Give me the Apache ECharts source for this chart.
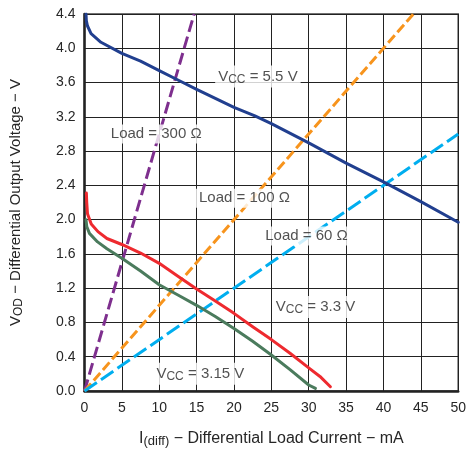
<!DOCTYPE html>
<html>
<head>
<meta charset="utf-8">
<script src="https://cdn.jsdelivr.net/npm/echarts@6/dist/echarts.min.js"></script>
<style>
html,body{margin:0;padding:0;background:#fff;}
#chart{width:469px;height:453px;}
</style>
</head>
<body>
<div id="chart"></div>
<script>
// Vcc = 5.5 V curve
const vcc55X = [0.2, 0.25, 0.4, 0.88, 2.2, 5, 7.5, 10, 12.5, 15, 20, 22.8, 25, 30, 35, 40, 45, 50];
const vcc55Y = [4.4, 4.32, 4.26, 4.17, 4.07, 3.94, 3.85, 3.74, 3.63, 3.52, 3.31, 3.21, 3.12, 2.895, 2.66, 2.44, 2.21, 1.97];
// Vcc = 3.3 V curve
const vcc33X = [0.25, 0.3, 0.4, 0.9, 1.8, 3, 5, 7.5, 10, 12.5, 15, 17.5, 20, 22.5, 25, 27.5, 30, 31.5, 32.9];
const vcc33Y = [2.31, 2.2, 2.07, 1.95, 1.86, 1.78, 1.71, 1.61, 1.49, 1.34, 1.19, 1.05, 0.906, 0.75, 0.60, 0.44, 0.27, 0.17, 0.05];
// Vcc = 3.15 V curve
const vcc315X = [0.2, 0.3, 0.66, 1.75, 3, 5, 7.5, 10, 12.5, 15, 17.5, 20, 22.5, 25, 27.5, 30, 30.9];
const vcc315Y = [2.0, 1.92, 1.84, 1.74, 1.66, 1.55, 1.40, 1.24, 1.12, 1.00, 0.87, 0.73, 0.58, 0.42, 0.25, 0.07, 0.03];
// Load lines (endpoints)
const load300X = [0, 14.67];
const load300Y = [0, 4.4];
const load100X = [0, 44];
const load100Y = [0, 4.4];
const load60X = [0, 50];
const load60Y = [0, 3.0];
// Annotation labels
const labelTexts = ['V{sub|CC} = 5.5 V', 'Load = 300 Ω', 'Load = 100 Ω', 'Load = 60 Ω', 'V{sub|CC} = 3.3 V', 'V{sub|CC} = 3.15 V'];
const labelX = [23.2, 9.6, 21.4, 29.7, 30.9, 15.5];
const labelY = [3.67, 3.0, 2.25, 1.81, 0.98, 0.2];
// Axis ticks
const xTicks = [0, 5, 10, 15, 20, 25, 30, 35, 40, 45, 50];
const yTicks = [0.0, 0.4, 0.8, 1.2, 1.6, 2.0, 2.4, 2.8, 3.2, 3.6, 4.0, 4.4];

const zip = (xs, ys) => xs.map((x, i) => [x, ys[i]]);
const FONT = '"Liberation Sans", Arial, sans-serif';
const TXT = '#262626';

const solid = (name, xs, ys, color) => ({
  name, type: 'line', data: zip(xs, ys), symbol: 'none', smooth: false,
  lineStyle: { color, width: 3, cap: 'round', join: 'round' }, z: 3
});
const dashed = (name, xs, ys, color, dash) => ({
  name, type: 'line', data: zip(xs, ys), symbol: 'none',
  lineStyle: { color, width: 3, type: dash }, z: 3
});
const richStyle = (size) => ({
  n: { fontSize: size, color: TXT, fontFamily: FONT },
  sub: { fontSize: size - 3, color: TXT, fontFamily: FONT, verticalAlign: 'bottom', padding: [6, 0, 0, 0] }
});

const chart = echarts.init(document.getElementById('chart'), null, { renderer: 'canvas' });
chart.setOption({
  backgroundColor: '#fff',
  animation: false,
  textStyle: { fontFamily: FONT },
  grid: { left: 82, right: 7, top: 14, bottom: 62, show: true, borderColor: '#444', borderWidth: 1.5 },
  xAxis: {
    type: 'value', min: xTicks[0], max: xTicks[xTicks.length - 1], interval: 5,
    axisLine: { show: true, onZero: false, lineStyle: { color: '#222', width: 2.5 } },
    axisTick: { show: false },
    splitLine: { show: true, lineStyle: { color: '#222', width: 1 } },
    axisLabel: { color: TXT, fontSize: 14, margin: 10, fontFamily: FONT },
    name: '{n|I}{sub|(diff)}{n| − Differential Load Current − mA}',
    nameLocation: 'middle', nameGap: 38,
    nameTextStyle: { rich: richStyle(16) }
  },
  yAxis: {
    type: 'value', min: yTicks[0], max: yTicks[yTicks.length - 1], interval: 0.4,
    axisLine: { show: true, onZero: false, lineStyle: { color: '#222', width: 2.5 } },
    axisTick: { show: false },
    splitLine: { show: true, lineStyle: { color: '#222', width: 1 } },
    axisLabel: { color: TXT, fontSize: 14, margin: 9, fontFamily: FONT, formatter: v => v.toFixed(1) },
    name: '{n|V}{sub|OD}{n| − Differential Output Voltage − V}',
    nameLocation: 'middle', nameGap: 60, nameRotate: 90,
    nameTextStyle: { rich: richStyle(15) }
  },
  series: [
    dashed('Load 300', load300X, load300Y, '#7e2f8e', [12, 5]),
    dashed('Load 100', load100X, load100Y, '#f7941d', [10, 4]),
    dashed('Load 60', load60X, load60Y, '#00aeef', [15, 5]),
    solid('Vcc 5.5', vcc55X, vcc55Y, '#213f8f'),
    solid('Vcc 3.3', vcc33X, vcc33Y, '#ee2a2f'),
    solid('Vcc 3.15', vcc315X, vcc315Y, '#4b7b5d'),
    {
      type: 'scatter', symbolSize: 0, z: 5, silent: true,
      data: labelTexts.map((t, i) => ({ value: [labelX[i], labelY[i]], text: t })),
      label: {
        show: true, position: 'inside',
        formatter: p => p.data.text.replace(/^([^{]+)$/, '{n|$1}').replace(/^V\{/, '{n|V}{').replace(/\} = (.*)$/, '}{n| = $1}'),
        backgroundColor: '#fff', padding: [2, 3, 2, 3],
        rich: richStyle(15)
      }
    }
  ]
});
</script>
</body>
</html>
